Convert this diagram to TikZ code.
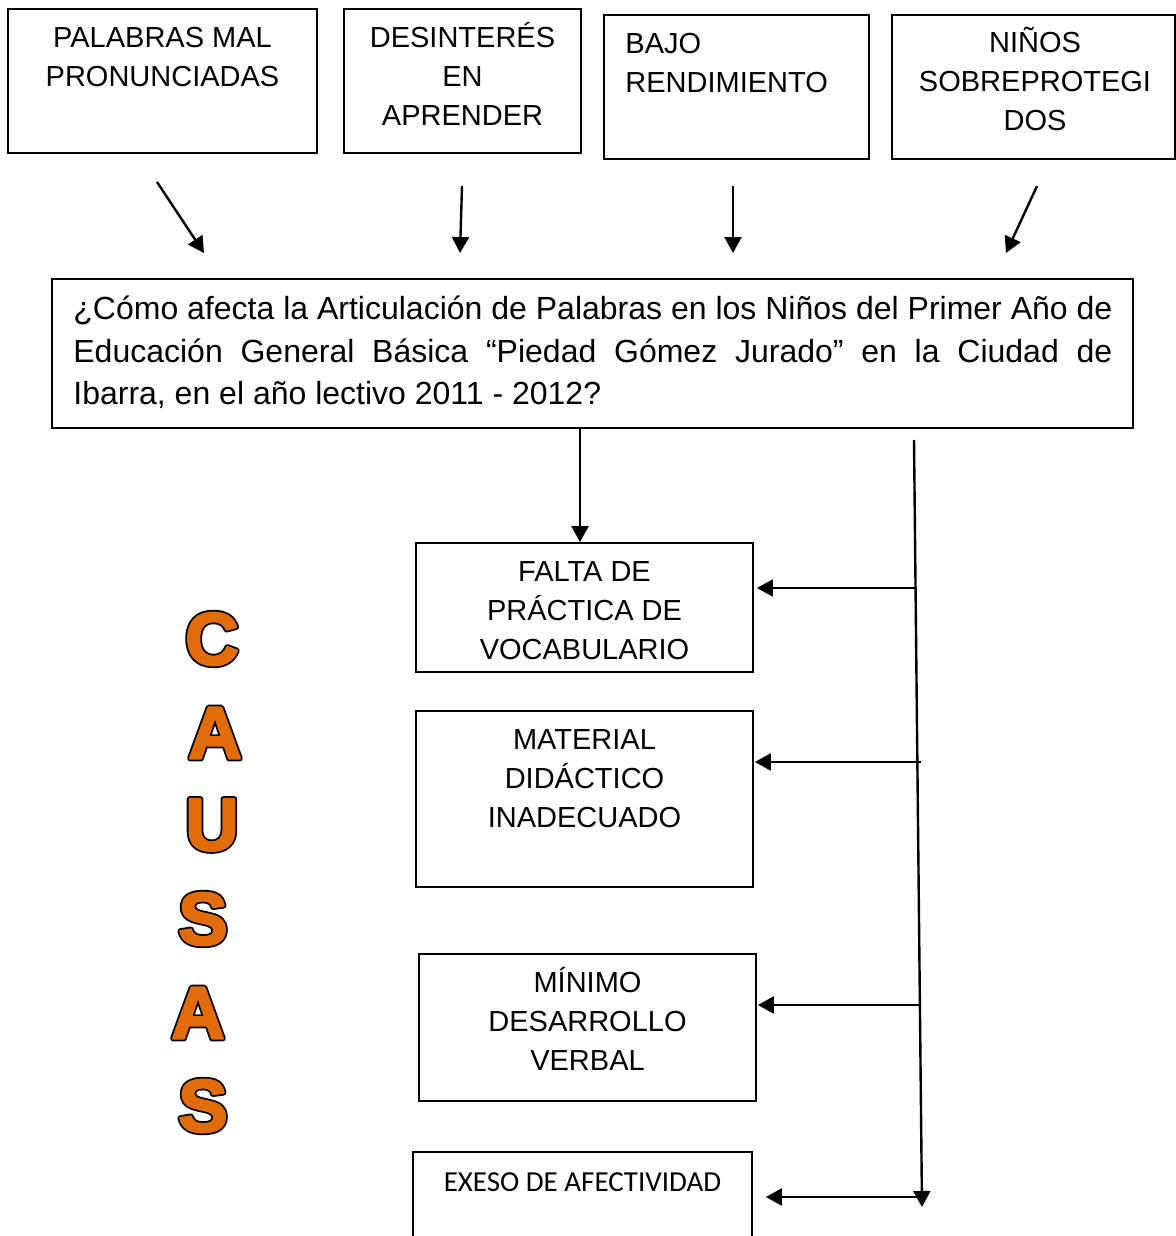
\documentclass[tikz,border=0pt]{standalone}
\usepackage{fontspec}
\setmainfont{Liberation Sans}
\newfontfamily\calib{Carlito}
\usetikzlibrary{arrows.meta}
\definecolor{causa}{HTML}{E36C0A}
\newcommand\outl[1]{\rlap{\special{pdf:literal direct 2 Tr 3 w 1 j 0 0 0 RG}#1}\special{pdf:literal direct 2 Tr 1.2 w 1 j 0.890 0.424 0.039 RG}#1}
\begin{document}
\begin{tikzpicture}[x=0.5pt,y=-0.5pt,
  box/.style={draw, line width=0.9pt, inner sep=0pt},
  lbl/.style={inner sep=0pt, align=center, font=\fontsize{14.5}{19.5}\selectfont},
  arr/.style={line width=1.2pt, -{Triangle[length=8pt,width=8.5pt]}},
  letter/.style={inner sep=0pt, text=causa, font=\fontsize{37}{42}\selectfont\bfseries}]
\clip (0,0) rectangle (1176,1236);
% top boxes
\node[box, minimum width=154.5pt, minimum height=72pt] (pal) at (162.5,81) {};
\node[box, minimum width=118.5pt, minimum height=72pt] (des) at (462.5,81) {};
\node[box, minimum width=132.5pt, minimum height=72pt] (baj) at (736.5,87) {};
\node[box, minimum width=141.5pt, minimum height=72pt] (nin) at (1033.5,87) {};
\node[lbl, anchor=north] (tpal) at (162.5,20) {\strut PALABRAS MAL\\PRONUNCIADAS};
\node[lbl, anchor=north] (tdes) at (462.5,20) {\strut DESINTERÉS\\EN\\APRENDER};
\node[lbl, anchor=north west, align=left] (tbaj) at (625,26) {\strut BAJO\\RENDIMIENTO};
\node[lbl, anchor=north] (tnin) at (1035,25) {\strut NIÑOS\\SOBREPROTEGI\\DOS};
% main box
\node[box, minimum width=540.5pt, minimum height=74.5pt] (main) at (592.5,353.5) {};
\node[anchor=north west, inner sep=0pt, text width=519.5pt, align=justify,
  font=\fontsize{16}{21.25}\selectfont] (qtext) at (73,289.7)
  {\hyphenpenalty=10000\exhyphenpenalty=10000\strut ¿Cómo afecta la Articulación de Palabras en los Niños del Primer Año de\linebreak Educación General Básica “Piedad Gómez Jurado” en la Ciudad de\linebreak Ibarra, en el año lectivo 2011 - 2012?};
% cause boxes
\node[box, minimum width=168.5pt, minimum height=64.5pt] (fal) at (584.5,607.5) {};
\node[box, minimum width=168.5pt, minimum height=88pt] (mat) at (584.5,799) {};
\node[box, minimum width=168.5pt, minimum height=73.5pt] (min) at (587.5,1027.5) {};
\node[box, minimum width=169.5pt, minimum height=49pt] (exe) at (582.5,1201) {};
\node[lbl, anchor=north] (tfal) at (584.5,554) {\strut FALTA DE\\PRÁCTICA DE\\VOCABULARIO};
\node[lbl, anchor=north] (tmat) at (584.5,722) {\strut MATERIAL\\DIDÁCTICO\\INADECUADO};
\node[lbl, anchor=north] (tmin) at (587.5,965) {\strut MÍNIMO\\DESARROLLO\\VERBAL};
\node[anchor=base, inner sep=0pt, font=\calib\fontsize{14.5}{17}\selectfont] (texe) at (582.5,1191.5) {EXESO DE AFECTIVIDAD};
% top arrows
\coordinate (a1s) at (157,182); \coordinate (a1e) at (204,253);
\coordinate (a2s) at (462,186); \coordinate (a2e) at (460,253);
\coordinate (a3s) at (733,186); \coordinate (a3e) at (733,253);
\coordinate (a4s) at (1037,186); \coordinate (a4e) at (1006,253);
\draw[arr] (a1s) -- (a1e);
\draw[arr] (a2s) -- (a2e);
\draw[arr] (a3s) -- (a3e);
\draw[arr] (a4s) -- (a4e);
% main to first cause
\coordinate (mx) at (580,0);
\draw[arr] (main.south -| mx) -- (fal.north -| mx);
% vertical line and branches
\coordinate (vtop) at (914,440);
\coordinate (vbot) at (922,1207);
\draw[arr] (vtop) -- (vbot);
\coordinate (h1) at (915,588);
\coordinate (h2) at (921,762);
\coordinate (h3) at (920,1005);
\coordinate (h4) at (921,1197);
\draw[arr, shorten >=1.5pt] (h1) -- (fal.east |- h1);
\draw[arr, shorten >=0.5pt] (h2) -- (mat.east |- h2);
\draw[arr, shorten >=0.5pt] (h3) -- (min.east |- h3);
\draw[arr, shorten >=6.5pt] (h4) -- (exe.east |- h4);
% CAUSAS
\node[letter] (l1) at (212,639) {\outl{C}};
\node[letter] (l2) at (215,733) {\outl{A}};
\node[letter] (l3) at (212,825) {\outl{U}};
\node[letter] (l4) at (203,919) {\outl{S}};
\node[letter] (l5) at (198,1013) {\outl{A}};
\node[letter] (l6) at (203,1106) {\outl{S}};
\end{tikzpicture}
\end{document}
